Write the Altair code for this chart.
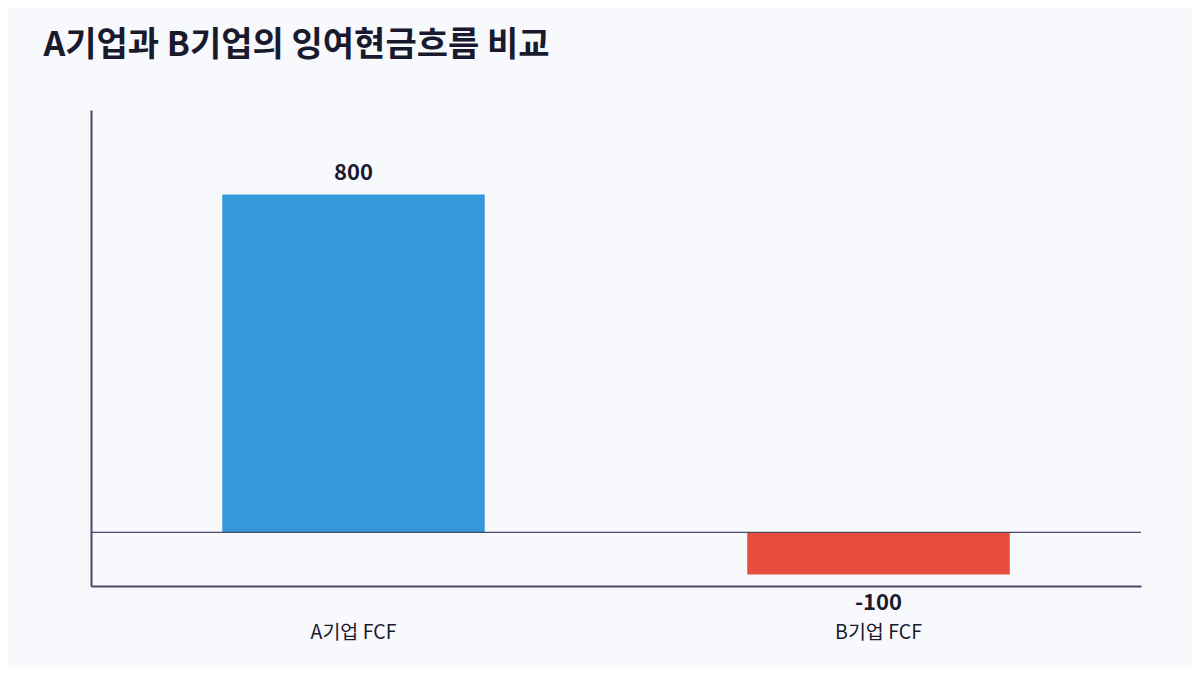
import altair as alt
import pandas as pd

categories = ["A기업 FCF", "B기업 FCF"]
values = [800, -100]
bar_colors = ["#3598db", "#e74c3c"]
labels = [str(v) for v in values]

df = pd.DataFrame({"item": categories, "FCF": values, "label": labels, "color": bar_colors})

FONT = "Noto Sans CJK KR"
AXIS_COLOR = "#4a4868"
TEXT_COLOR = "#1a1a2e"

x = alt.X(
    "item:N",
    sort=categories,
    title=None,
    scale=alt.Scale(paddingInner=0.5, paddingOuter=0.25),
    axis=alt.Axis(
        labelAngle=0, ticks=False, domainColor=AXIS_COLOR, domainWidth=2,
        labelFontSize=19.5, labelColor=TEXT_COLOR, labelPadding=37, labelFont=FONT,
    ),
)
y = alt.Y(
    "FCF:Q",
    scale=alt.Scale(domain=[-127, 1000], nice=False),
    axis=alt.Axis(title=None, labels=False, ticks=False, grid=False,
                  domainColor=AXIS_COLOR, domainWidth=2),
)

base = alt.Chart(df)

bars = base.mark_bar().encode(x=x, y=y, color=alt.Color("color:N", scale=None, legend=None))

zero = base.mark_rule(color=AXIS_COLOR, strokeWidth=1).encode(y=alt.datum(0))

pos_text = base.transform_filter("datum.FCF >= 0").mark_text(
    baseline="alphabetic", dy=-14, fontSize=22, fontWeight="bold", color=TEXT_COLOR, font=FONT
).encode(x=x, y=y, text="label:N")

neg_text = base.transform_filter("datum.FCF < 0").mark_text(
    baseline="alphabetic", dy=35, fontSize=22, fontWeight="bold", color=TEXT_COLOR, font=FONT
).encode(x=x, y=y, text="label:N")

chart = alt.layer(bars, zero, pos_text, neg_text).properties(
    width=1050,
    height=476,
    autosize=alt.AutoSizeParams(type="none"),
    padding={"left": 83, "top": 102, "right": 51, "bottom": 81},
    background="#f8f9fd",
    title=alt.Title(
        "A기업과 B기업의 잉여현금흐름 비교",
        anchor="start", fontSize=34, fontWeight="bold", font=FONT,
        color=TEXT_COLOR, dx=-47, offset=47,
    ),
).configure_view(stroke=None)

chart.save("out.html", embed_options={"renderer": "svg", "actions": False})
